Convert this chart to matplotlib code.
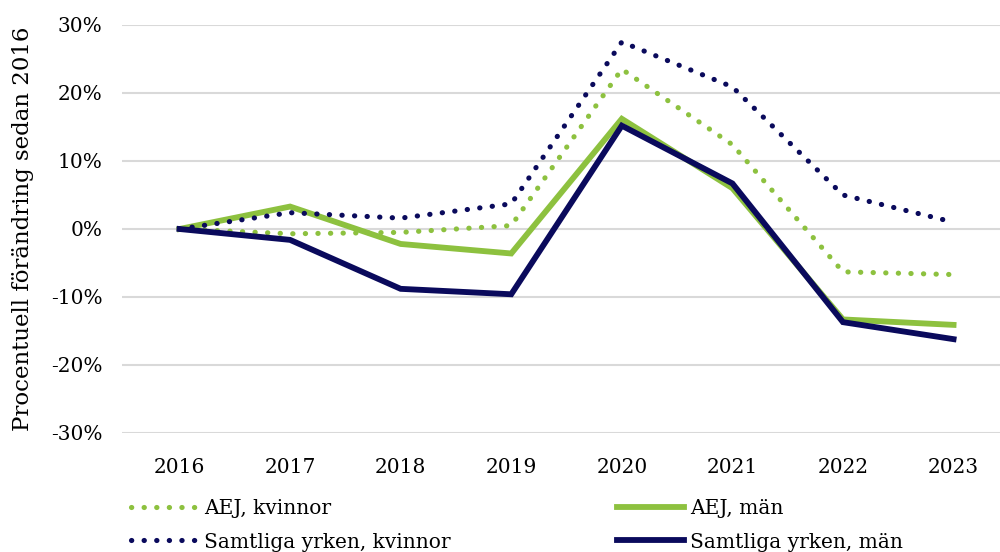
import matplotlib
matplotlib.use("Agg")
import matplotlib.pyplot as plt
from matplotlib.ticker import FuncFormatter

years = ["2016", "2017", "2018", "2019", "2020", "2021", "2022", "2023"]
aej_kvinnor = [0, -0.7, -0.5, 0.5, 23.5, 12.4, -6.3, -6.7]
aej_man = [0, 3.3, -2.2, -3.6, 16.2, 6.0, -13.3, -14.1]
samtliga_kvinnor = [0, 2.4, 1.6, 3.7, 27.5, 20.9, 5.0, 1.0]
samtliga_man = [0, -1.6, -8.8, -9.6, 15.2, 6.7, -13.7, -16.2]

green = "#8DC13F"
navy = "#0A0A5C"

plt.rcParams["font.family"] = ["DejaVu Serif"]

fig = plt.figure(figsize=(10, 5.52), dpi=100)
ax = fig.add_axes([0.122, 1 - 433 / 552, 0.878, (433 - 25) / 552])

x = range(len(years))
dot = (0, (0.05, 2.4))
l1, = ax.plot(x, aej_kvinnor, color=green, lw=3.7, linestyle=dot,
              dash_capstyle="round", label="AEJ, kvinnor", zorder=3)
l2, = ax.plot(x, aej_man, color=green, lw=4.2, solid_joinstyle="miter",
              label="AEJ, män", zorder=3)
l3, = ax.plot(x, samtliga_kvinnor, color=navy, lw=3.7, linestyle=dot,
              dash_capstyle="round", label="Samtliga yrken, kvinnor", zorder=3)
l4, = ax.plot(x, samtliga_man, color=navy, lw=4.2, solid_joinstyle="miter",
              label="Samtliga yrken, män", zorder=3)

ax.set_xlim(-0.52, 7.42)
ax.set_ylim(-30, 30)
ax.set_yticks(range(-30, 31, 10))
ax.yaxis.set_major_formatter(FuncFormatter(lambda v, p: f"{int(v)}%"))
ax.set_xticks(list(x))
ax.set_xticklabels(years)
ax.grid(axis="y", color="#d9d9d9", lw=1.5)
ax.set_axisbelow(True)
for s in ax.spines.values():
    s.set_visible(False)
ax.tick_params(length=0, labelsize=14.5, colors="black")
ax.tick_params(axis="x", pad=18)
ax.tick_params(axis="y", pad=14)
ax.set_ylabel("Procentuell förändring sedan 2016", fontsize=16.5, labelpad=12)

handles = [l1, l3, l2, l4]
leg = fig.legend(handles, [h.get_label() for h in handles],
                 loc="lower left", bbox_to_anchor=(0.113, -0.032), ncol=2,
                 frameon=False, fontsize=14.5, handlelength=3.3,
                 handletextpad=0.3, columnspacing=8.3, labelspacing=0.7)

fig.savefig("out.png", dpi=100)
